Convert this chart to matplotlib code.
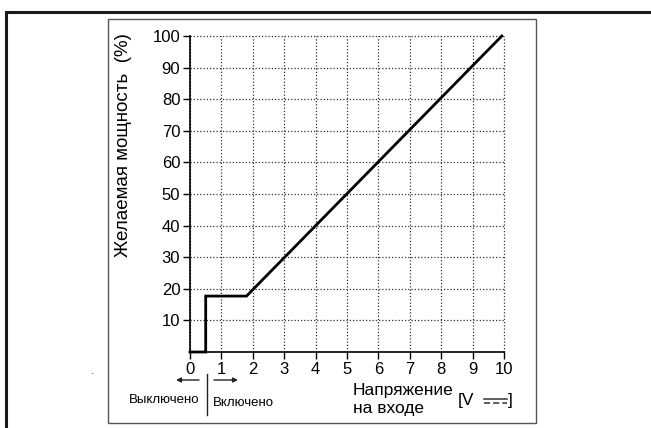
import matplotlib.pyplot as plt
from matplotlib.lines import Line2D
from matplotlib.patches import Rectangle

plt.rcParams['font.family'] = ['Liberation Sans', 'DejaVu Sans']

# characteristic: off below 0.5 V, fixed minimum up to ~1.8 V, then linear to 100 %
volts = [0.0, 0.5, 0.5, 1.8, 9.93]
power = [0.0, 0.0, 17.7, 17.7, 100.0]

x_ticks = list(range(0, 11))
y_ticks = list(range(10, 101, 10))

W, H = 651, 428


def fx(px):
    return px / W


def fy(py):
    return 1 - py / H


fig = plt.figure(figsize=(W / 100, H / 100), dpi=100)

# outer frame and inner box
fig.patches.append(Rectangle((fx(6), fy(440)), 1.2, fy(12) - fy(440),
                             transform=fig.transFigure, fill=False,
                             edgecolor='#1a1a1a', lw=2.2))
fig.patches.append(Rectangle((fx(108), fy(423)), fx(536) - fx(108), fy(19) - fy(423),
                             transform=fig.transFigure, fill=False,
                             edgecolor='#555555', lw=1.0))

ax = fig.add_axes([fx(190), fy(352), fx(504) - fx(190), fy(36) - fy(352)])
ax.set_xlim(0, 10)
ax.set_ylim(0, 100)
ax.set_xticks(x_ticks)
ax.set_yticks(y_ticks)
ax.tick_params(direction='out', length=5, width=1, labelsize=12, pad=2)
for s in ['top', 'right']:
    ax.spines[s].set_visible(False)
for s in ['left', 'bottom']:
    ax.spines[s].set_linewidth(1.2)
ax.set_facecolor('none')

ax.grid(True, linestyle=(0, (1, 1.6)), color='#333333', lw=0.9)
for gl in ax.get_xgridlines() + ax.get_ygridlines():
    gl.set_clip_on(False)

ax.plot(volts, power, color='black', lw=2.0, clip_on=False, solid_joinstyle='miter', zorder=3)

ax.set_ylabel('Желаемая мощность  (%)', fontsize=13.5)
ax.yaxis.set_label_coords(-(190 - 132) / (504 - 190), 0.655)

# bottom annotations
fig.text(fx(353), fy(390), 'Напряжение', fontsize=12.5, ha='left', va='center')
fig.text(fx(353), fy(409), 'на входе', fontsize=12.5, ha='left', va='center')
fig.text(fx(458), fy(400), '[V', fontsize=12.5, ha='left', va='center')
fig.text(fx(508), fy(400), ']', fontsize=12.5, ha='left', va='center')
fig.lines.append(Line2D([fx(484), fx(507)], [fy(398.5), fy(398.5)],
                        transform=fig.transFigure, color='#333333', lw=1.1))
fig.lines.append(Line2D([fx(484), fx(507)], [fy(402.5), fy(402.5)],
                        transform=fig.transFigure, color='#333333', lw=1.1,
                        linestyle=(0, (4, 2))))

fig.text(fx(164), fy(400), 'Выключено', fontsize=9.5, ha='center', va='center')
fig.text(fx(213), fy(403), 'Включено', fontsize=9.5, ha='left', va='center')
fig.lines.append(Line2D([fx(206.5), fx(206.5)], [fy(374), fy(415)],
                        transform=fig.transFigure, color='#222222', lw=1.0))
ax.annotate('', xy=(fx(176), fy(380)), xytext=(fx(199), fy(380)),
            xycoords='figure fraction',
            arrowprops=dict(arrowstyle='-|>', color='#222222', lw=1.0,
                            mutation_scale=7, shrinkA=0, shrinkB=0))
ax.annotate('', xy=(fx(238), fy(380)), xytext=(fx(214), fy(380)),
            xycoords='figure fraction',
            arrowprops=dict(arrowstyle='-|>', color='#222222', lw=1.0,
                            mutation_scale=7, shrinkA=0, shrinkB=0))

fig.text(fx(93), fy(371), '.', fontsize=8, ha='center', va='center', color='#444444')

fig.savefig('out.png', dpi=100)
